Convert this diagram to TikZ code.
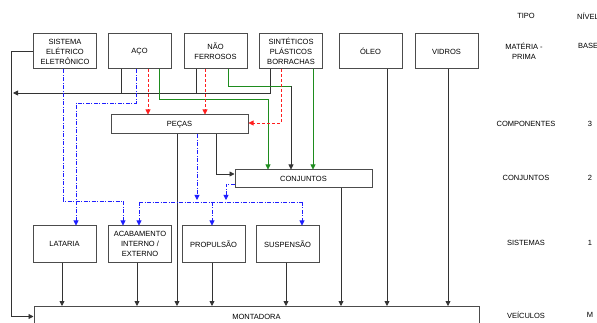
\documentclass[tikz,border=0pt]{standalone}
\usepackage{fontspec}
\setmainfont{Liberation Sans}
\usetikzlibrary{arrows.meta}
\definecolor{grn}{RGB}{30,140,30}
\definecolor{rd}{RGB}{255,30,30}
\definecolor{bl}{RGB}{30,30,255}

\begin{document}
\begin{tikzpicture}[x=1pt, y=-1pt,
	every node/.style={font=\fontsize{7.5}{10}\selectfont, align=center, inner sep=0pt},
	box/.style={draw=black!70, line width=1pt, minimum width=63pt, minimum height=35pt},
	wbox/.style={draw=black!70, line width=1pt, minimum width=137pt, minimum height=19pt},
	ln/.style={draw=black!80, line width=0.8pt},
	arr/.style={ln, -{Triangle[length=5pt,width=5pt]}},
	gln/.style={draw=grn, line width=0.8pt},
	garr/.style={gln, -{Triangle[length=5pt,width=5pt]}},
	rarr/.style={draw=rd, line width=0.8pt, dash pattern=on 3pt off 2pt, -{Triangle[length=5pt,width=5pt]}},
	bln/.style={draw=bl, line width=0.8pt, dash pattern=on 4pt off 1.5pt on 1pt off 1.5pt},
	barr/.style={bln, -{Triangle[length=5pt,width=5pt]}}]
	\useasboundingbox (0,0) rectangle (597,323);
	
	%materia-prima
	\node[box] (sis) at (65,51.5) {SISTEMA\\ELÉTRICO\\ELETRÔNICO};
	\node[box] (aco) at (139.5,51.5) {AÇO};
	\node[box] (nao) at (215.5,51.5) {NÃO\\FERROSOS};
	\node[box] (sin) at (291,51.5) {SINTÉTICOS\\PLÁSTICOS\\BORRACHAS};
	\node[box] (oleo) at (370.5,51.5) {ÓLEO};
	\node[box] (vid) at (446.5,51.5) {VIDROS};
	
	%componentes, conjuntos
	\node[wbox] (pecas) at (179.5,124.5) {PEÇAS};
	\node[wbox, minimum height=18pt] (conj) at (303.5,179) {CONJUNTOS};
	
	%sistemas
	\node[box, minimum height=36pt] (lat) at (64.5,244) {LATARIA};
	\node[box, minimum height=36pt] (acab) at (140,244) {ACABAMENTO\\INTERNO /\\EXTERNO};
	\node[box, minimum height=36pt] (prop) at (213.5,244) {PROPULSÃO};
	\node[box, minimum height=36pt] (susp) at (287.5,244) {SUSPENSÃO};
	
	%veiculos
	\node[draw=black!70, line width=1pt, minimum width=445pt, minimum height=20pt, anchor=north] (mont) at (256.5,306) {MONTADORA};
	
	%tipo / nivel
	\node (tipo) at (526,16) {TIPO};
	\node[anchor=west] (nivel) at (577,16) {NÍVEL};
	\node (mp) at (524,51.5) {MATÉRIA -\\PRIMA};
	\node[anchor=west] (base) at (578,46) {BASE};
	\foreach \y/\t/\n in {124/COMPONENTES/3, 178/CONJUNTOS/2, 243/SISTEMAS/1, 315/VEÍCULOS/M}{
		\node (tp\n) at (526,\y) {\t};
		\node (lv\n) at (590,\y) {\n};
	}
	
	%black lines
	\draw[arr] (sis.west) -- ++(-21.5,0) |- (mont.west);
	\draw[ln] ([xshift=-18.5pt]aco.south) -- ++(0,24);
	\draw[ln] ([xshift=-19.5pt]nao.south) -- ++(0,24);
	\draw[arr] ([xshift=-21pt]sin.south) |- (13,93);
	\coordinate (gk) at (291,86);
	\draw[arr] (gk) -- ([xshift=-12.5pt]conj.north);
	\draw[arr] ([xshift=36.5pt]pecas.south) |- ([yshift=5pt]conj.west);
	\foreach \n/\dx in {lat/-2.5, acab/-3, pecas/-2.5, prop/-1.5, susp/-1.5, conj/37.5, oleo/16.5, vid/1.5}{
		\draw[arr] ([xshift=\dx pt]\n.south) -- ([xshift=\dx pt]\n.south |- mont.north);
	}
	
	%green lines
	\draw[garr] ([xshift=19.5pt]aco.south) |- (268,99) -- ([xshift=-35.5pt]conj.north);
	\draw[gln] ([xshift=12.5pt]nao.south) |- (gk);
	\draw[garr] ([xshift=22pt]sin.south) -- ([xshift=9.5pt]conj.north);
	
	%red lines
	\draw[rarr] ([xshift=8.5pt]aco.south) -- ([xshift=-31.5pt]pecas.north);
	\draw[rarr] ([xshift=-10.5pt]nao.south) -- ([xshift=25.5pt]pecas.north);
	\draw[rarr] ([xshift=-10pt]sin.south) |- ([yshift=1.5pt]pecas.east);
	
	%blue lines
	\draw[barr] ([xshift=-2pt]sis.south) |- (123,201) -- ([xshift=-17pt]acab.north);
	\draw[barr] ([xshift=-3.5pt]aco.south) |- (76,103) -- ([xshift=11.5pt]lat.north);
	\draw[barr] ([xshift=17.5pt]pecas.south) -- (197,200);
	\draw[barr] ([yshift=-5pt]conj.west) -| (226,200);
	\draw[bln] (139,202) -- (302,202);
	\draw[barr] (139,202) -- ([xshift=-1pt]acab.north);
	\draw[barr] (212,202) -- ([xshift=-1.5pt]prop.north);
	\draw[barr] (302,202) -- ([xshift=14.5pt]susp.north);
\end{tikzpicture}
\end{document}
